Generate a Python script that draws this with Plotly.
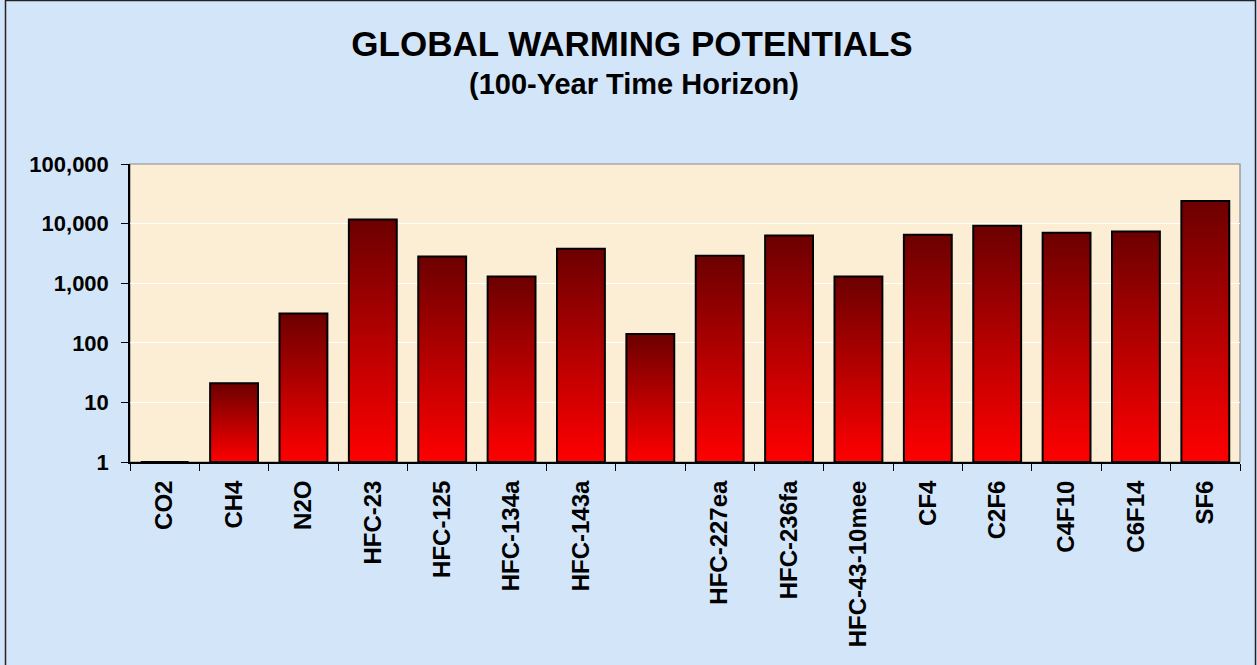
import plotly.graph_objects as go

# Gases on the category axis (the HFC-152a slot carries no label)
gases = ["CO2", "CH4", "N2O", "HFC-23", "HFC-125", "HFC-134a", "HFC-143a", "",
         "HFC-227ea", "HFC-236fa", "HFC-43-10mee", "CF4", "C2F6", "C4F10",
         "C6F14", "SF6"]
# 100-year global warming potential of each gas (CO2 = 1)
gwp_100yr = [1, 21, 310, 11700, 2800, 1300, 3800, 140, 2900, 6300, 1300,
             6500, 9200, 7000, 7400, 23900]

y_tickvals = [1, 10, 100, 1000, 10000, 100000]
y_ticktext = ["1", "10", "100", "1,000", "10,000", "100,000"]

W, H = 1257, 665
ML, MR, MT, MB = 130, 17, 164, 203
FONT = "Arial, 'Liberation Sans', sans-serif"
BAR_HALF = 0.345
BASE = y_tickvals[0]

PAPER_BG = "#d3e5f8"
PLOT_BG = "#fbeed5"


def px_to_paper_x(px):
    return (px - ML) / (W - ML - MR)


def px_to_paper_y(py):
    return (H - MB - py) / (H - MT - MB)


fig = go.Figure()

# Each bar is a filled outline so it can carry a dark-top / red-bottom gradient
for i, (name, val) in enumerate(zip(gases, gwp_100yr)):
    fig.add_trace(go.Scatter(
        x=[i - BAR_HALF, i - BAR_HALF, i + BAR_HALF, i + BAR_HALF, i - BAR_HALF],
        y=[BASE, val, val, BASE, BASE],
        mode="lines",
        fill="toself",
        fillgradient=dict(type="vertical",
                          colorscale=[[0, "#ff0000"], [1, "#6c0000"]]),
        line=dict(color="#000000", width=2),
        name=name or "HFC-152a",
        hovertemplate=f"{name or 'HFC-152a'}: {val:,}<extra></extra>",
        showlegend=False,
        xaxis="x", yaxis="y",
    ))

n = len(gases)

fig.update_layout(
    width=W, height=H,
    margin=dict(l=ML, r=MR, t=MT, b=MB),
    paper_bgcolor=PAPER_BG,
    plot_bgcolor=PLOT_BG,
    font=dict(family=FONT, color="#000000"),
    title=dict(
        text="GLOBAL WARMING POTENTIALS",
        font=dict(family=FONT, size=35, weight="bold", color="#000000"),
        x=632 / W, xanchor="center", xref="container",
        y=1 - 43.5 / H, yanchor="middle", yref="container",
    ),
    xaxis=dict(
        range=[-0.5, n - 0.5],
        tickmode="array",
        tickvals=list(range(n)),
        ticktext=gases,
        tickangle=-90,
        ticks="outside", ticklen=7, tickcolor="rgba(0,0,0,0)",
        tickfont=dict(family=FONT, size=24, weight="bold", color="#000000"),
        ticklabelstandoff=0,
        minor=dict(tickmode="array",
                   tickvals=[k - 0.5 for k in range(n + 1)],
                   ticks="outside", ticklen=7, tickwidth=1,
                   tickcolor="#000000", showgrid=False),
        showline=True, linecolor="#000000", linewidth=2,
        showgrid=False, zeroline=False, fixedrange=True,
    ),
    yaxis=dict(
        type="log",
        range=[0, 5],
        tickmode="array",
        tickvals=y_tickvals,
        ticktext=y_ticktext,
        ticks="outside", ticklen=7, tickwidth=1, tickcolor="#000000",
        tickfont=dict(family=FONT, size=22, weight="bold", color="#000000"),
        ticklabelstandoff=8,
        showline=True, linecolor="#000000", linewidth=1.5,
        showgrid=True, gridcolor="#ffffff", gridwidth=1,
        zeroline=False, fixedrange=True,
    ),
    # Overlay axis that lays dark dashes on top of the white gridlines
    yaxis2=dict(
        type="log",
        range=[0, 5],
        overlaying="y", anchor="x", side="left",
        tickmode="array", tickvals=y_tickvals[1:-1],
        showticklabels=False, ticks="",
        showgrid=True, gridcolor="#404040", gridwidth=1,
        griddash="4px,16px",
        showline=False, zeroline=False, fixedrange=True,
    ),
    annotations=[dict(
        text="(100-Year Time Horizon)",
        xref="paper", yref="paper",
        x=px_to_paper_x(634), y=px_to_paper_y(84.5),
        xanchor="center", yanchor="middle",
        showarrow=False,
        font=dict(family=FONT, size=29, weight="bold", color="#000000"),
    )],
    shapes=[
        # gray frame on the top and right of the plotting area
        dict(type="rect", xref="paper", yref="paper", x0=0, x1=1, y0=0, y1=1,
             line=dict(color="#8a8a8a", width=1.2), layer="below"),
        # thin outer frame of the chart
        dict(type="rect", xref="paper", yref="paper",
             x0=px_to_paper_x(5.5), x1=px_to_paper_x(1255.5),
             y0=px_to_paper_y(H + 5), y1=px_to_paper_y(0.5),
             line=dict(color="#222222", width=1.5), layer="above"),
    ],
    showlegend=False,
)

fig.write_html("out.html")
